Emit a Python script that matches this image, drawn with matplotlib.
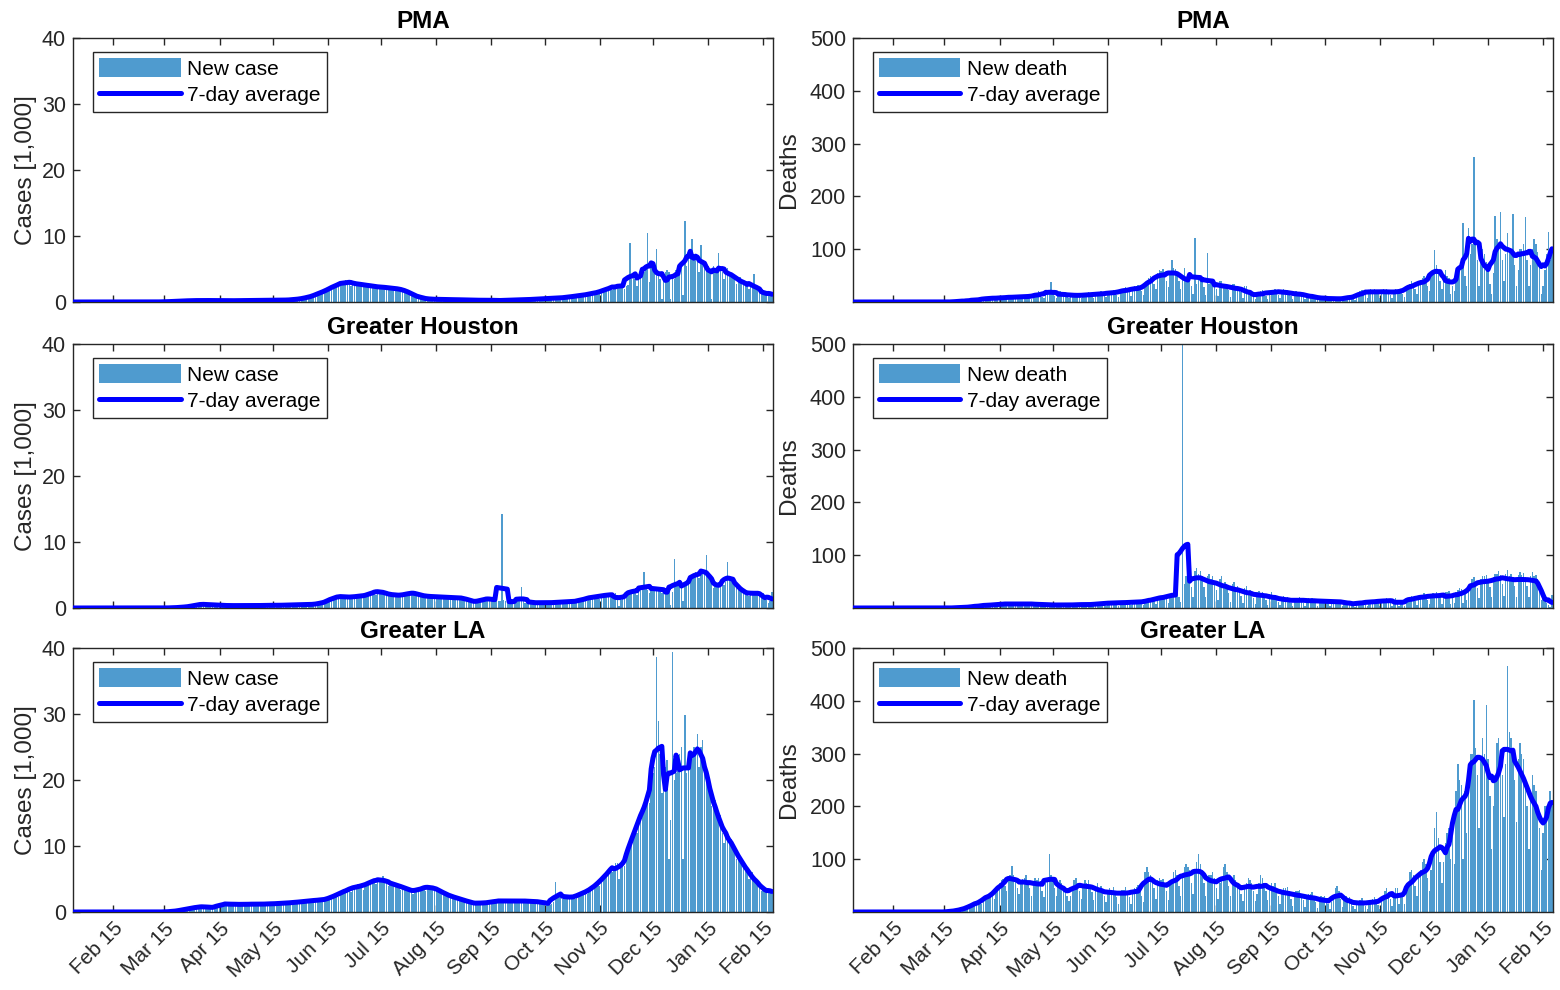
import numpy as np
import pandas as pd
import matplotlib
matplotlib.use('Agg')
import matplotlib.pyplot as plt
import matplotlib.dates as mdates

plt.rcParams['font.family'] = ['Liberation Sans', 'DejaVu Sans']

# daily values from 2020-01-22 (a Wednesday), one row = one week
start_date = '2020-01-22'

pma_cases = [  # thousands
    0, 0, 0, 0, 0, 0, 0,
    0, 0, 0, 0, 0, 0, 0,
    0, 0, 0, 0, 0, 0, 0,
    0, 0, 0, 0, 0, 0, 0,
    0, 0, 0, 0, 0, 0, 0,
    0, 0, 0, 0, 0, 0, 0,
    0, 0, 0, 0, 0, 0, 0.01,
    0.01, 0.02, 0.02, 0.03, 0.02, 0.04, 0.05,
    0.06, 0.08, 0.1, 0.1, 0.08, 0.12, 0.14,
    0.15, 0.17, 0.2, 0.18, 0.15, 0.2, 0.22,
    0.22, 0.25, 0.24, 0.2, 0.18, 0.22, 0.25,
    0.25, 0.24, 0.22, 0.2, 0.18, 0.2, 0.24,
    0.22, 0.2, 0.2, 0.18, 0.15, 0.18, 0.2,
    0.2, 0.2, 0.22, 0.2, 0.18, 0.2, 0.22,
    0.22, 0.25, 0.24, 0.2, 0.2, 0.22, 0.25,
    0.25, 0.26, 0.25, 0.22, 0.2, 0.24, 0.26,
    0.28, 0.3, 0.28, 0.25, 0.22, 0.26, 0.3,
    0.3, 0.32, 0.3, 0.28, 0.25, 0.3, 0.35,
    0.4, 0.45, 0.5, 0.45, 0.4, 0.5, 0.6,
    0.7, 0.8, 0.9, 0.9, 0.8, 1.0, 1.2,
    1.4, 1.6, 1.7, 1.6, 1.5, 1.8, 2.0,
    2.3, 2.5, 2.7, 2.6, 2.3, 2.6, 2.9,
    3.2, 3.4, 3.0, 2.8, 2.5, 2.9, 3.1,
    3.0, 2.8, 2.6, 2.4, 2.3, 2.6, 2.8,
    2.7, 2.5, 2.4, 2.2, 2.0, 2.3, 2.5,
    2.4, 2.3, 2.2, 2.1, 1.9, 2.1, 2.3,
    2.2, 2.1, 2.0, 1.8, 1.7, 1.9, 2.0,
    1.8, 1.6, 1.4, 1.1, 0.9, 1.0, 1.0,
    0.9, 0.7, 0.6, 0.5, 0.4, 0.5, 0.5,
    0.5, 0.45, 0.4, 0.35, 0.3, 0.4, 0.45,
    0.4, 0.4, 0.35, 0.3, 0.3, 0.35, 0.4,
    0.4, 0.35, 0.35, 0.3, 0.25, 0.3, 0.35,
    0.35, 0.3, 0.3, 0.25, 0.2, 0.25, 0.3,
    0.3, 0.3, 0.28, 0.25, 0.2, 0.25, 0.3,
    0.3, 0.25, 0.25, 0.2, 0.15, 0.2, 0.25,
    0.3, 0.3, 0.3, 0.25, 0.2, 0.3, 0.35,
    0.35, 0.4, 0.35, 0.3, 0.25, 0.35, 0.4,
    0.4, 0.45, 0.45, 0.4, 0.35, 0.4, 0.5,
    0.5, 0.55, 0.55, 0.5, 0.4, 0.5, 0.6,
    0.6, 0.65, 0.7, 0.6, 0.5, 0.6, 0.7,
    0.8, 0.85, 0.9, 0.8, 0.7, 0.9, 1.0,
    1.0, 1.1, 1.2, 1.1, 0.9, 1.1, 1.3,
    1.4, 1.5, 1.6, 1.4, 1.2, 1.5, 1.8,
    2.0, 2.2, 2.3, 2.0, 1.8, 2.2, 2.6,
    2.8, 2.2, 2.5, 2.6, 2.0, 2.5, 2.6,
    9.0, 3.5, 3.8, 3.5, 2.5, 3.6, 4.0,
    4.5, 4.6, 5.0, 10.5, 3.0, 5.5, 5.0,
    4.5, 8.0, 4.2, 3.5, 0.5, 4.5, 4.6,
    4.8, 4.5, 0.5, 4.0, 3.5, 4.8, 5.0,
    5.5, 6.0, 1.0, 12.3, 5.5, 6.5, 7.0,
    9.5, 6.5, 6.5, 6.0, 4.5, 8.6, 6.0,
    6.0, 5.5, 5.5, 5.0, 0.5, 5.5, 5.0,
    5.0, 7.5, 5.0, 4.5, 3.5, 4.8, 5.2,
    4.5, 4.2, 4.0, 3.5, 2.8, 3.5, 3.8,
    3.2, 3.0, 2.8, 2.5, 2.0, 2.5, 2.6,
    4.2, 2.0, 1.8, 1.5, 1.2, 1.5, 1.6,
    1.3, 1.2, 1.2, 1.0,
]

pma_deaths = [
    0, 0, 0, 0, 0, 0, 0,
    0, 0, 0, 0, 0, 0, 0,
    0, 0, 0, 0, 0, 0, 0,
    0, 0, 0, 0, 0, 0, 0,
    0, 0, 0, 0, 0, 0, 0,
    0, 0, 0, 0, 0, 0, 0,
    0, 0, 0, 0, 0, 0, 0,
    0, 0, 0, 0, 0, 0, 0,
    0, 0, 1, 0, 1, 1, 2,
    2, 1, 3, 2, 1, 4, 3,
    4, 6, 5, 3, 2, 6, 8,
    8, 9, 7, 5, 3, 8, 10,
    8, 10, 9, 6, 4, 9, 12,
    10, 12, 9, 7, 5, 10, 12,
    12, 14, 10, 8, 5, 12, 14,
    15, 20, 16, 10, 8, 18, 20,
    18, 38, 15, 12, 8, 16, 20,
    15, 18, 14, 10, 8, 14, 16,
    14, 16, 12, 9, 7, 14, 16,
    15, 18, 14, 10, 8, 16, 18,
    16, 20, 16, 12, 9, 18, 20,
    20, 22, 18, 14, 10, 22, 24,
    25, 28, 24, 18, 12, 26, 30,
    30, 32, 28, 20, 14, 34, 38,
    45, 50, 48, 35, 25, 55, 60,
    58, 62, 55, 40, 28, 55, 80,
    65, 62, 55, 40, 25, 48, 65,
    48, 45, 40, 30, 15, 122, 35,
    45, 42, 38, 28, 14, 92, 35,
    40, 38, 35, 25, 12, 40, 40,
    35, 33, 30, 22, 10, 35, 35,
    30, 28, 25, 18, 8, 30, 30,
    20, 18, 15, 10, 5, 12, 18,
    20, 22, 18, 12, 6, 20, 22,
    22, 25, 20, 14, 8, 22, 25,
    20, 22, 18, 12, 6, 18, 20,
    18, 18, 15, 10, 5, 15, 16,
    12, 12, 10, 6, 3, 10, 10,
    8, 9, 7, 5, 2, 7, 8,
    8, 8, 6, 4, 2, 7, 8,
    10, 12, 10, 8, 4, 10, 14,
    20, 22, 20, 15, 8, 22, 25,
    20, 24, 20, 15, 8, 22, 24,
    22, 25, 20, 14, 8, 20, 24,
    22, 25, 22, 16, 10, 28, 30,
    35, 40, 35, 25, 15, 38, 42,
    45, 50, 42, 30, 20, 55, 60,
    98, 70, 60, 40, 25, 50, 60,
    50, 45, 15, 30, 20, 45, 60,
    60, 70, 150, 50, 30, 140, 90,
    110, 274, 110, 80, 30, 90, 100,
    90, 75, 60, 35, 15, 55, 162,
    120, 110, 170, 80, 40, 90, 130,
    100, 90, 167, 70, 30, 60, 100,
    100, 110, 161, 80, 30, 70, 100,
    120, 110, 95, 70, 15, 30, 60,
    90, 133, 80, 100,
]

houston_cases = [  # thousands
    0, 0, 0, 0, 0, 0, 0,
    0, 0, 0, 0, 0, 0, 0,
    0, 0, 0, 0, 0, 0, 0,
    0, 0, 0, 0, 0, 0, 0,
    0, 0, 0, 0, 0, 0, 0,
    0, 0, 0, 0, 0, 0, 0,
    0, 0, 0, 0, 0, 0, 0,
    0, 0, 0, 0, 0, 0, 0.01,
    0.02, 0.03, 0.05, 0.05, 0.04, 0.08, 0.1,
    0.12, 0.15, 0.2, 0.2, 0.18, 0.25, 0.3,
    0.4, 0.5, 0.55, 0.6, 0.5, 0.55, 0.6,
    0.5, 0.55, 0.5, 0.45, 0.4, 0.45, 0.5,
    0.4, 0.45, 0.4, 0.35, 0.3, 0.35, 0.4,
    0.4, 0.4, 0.35, 0.35, 0.3, 0.35, 0.4,
    0.4, 0.4, 0.4, 0.35, 0.3, 0.4, 0.4,
    0.4, 0.4, 0.4, 0.35, 0.3, 0.4, 0.45,
    0.45, 0.45, 0.4, 0.4, 0.3, 0.4, 0.45,
    0.45, 0.5, 0.45, 0.4, 0.35, 0.45, 0.5,
    0.5, 0.5, 0.5, 0.45, 0.4, 0.5, 0.55,
    0.55, 0.6, 0.6, 0.5, 0.45, 0.55, 0.6,
    0.7, 0.8, 0.9, 0.9, 0.8, 1.0, 1.2,
    1.5, 1.7, 1.8, 1.6, 1.4, 1.7, 1.9,
    1.8, 1.9, 1.7, 1.5, 1.3, 1.6, 1.8,
    1.9, 2.0, 1.9, 1.7, 1.5, 1.8, 2.0,
    2.2, 2.4, 2.5, 2.3, 2.0, 2.6, 2.8,
    2.6, 2.5, 2.3, 2.0, 1.8, 2.1, 2.2,
    2.0, 2.1, 2.0, 1.8, 1.6, 2.0, 2.1,
    2.2, 2.3, 2.4, 2.2, 1.9, 2.3, 2.4,
    2.2, 2.0, 1.9, 1.7, 1.5, 1.8, 1.9,
    1.9, 1.8, 1.7, 1.6, 1.4, 1.7, 1.8,
    1.8, 1.7, 1.7, 1.5, 1.3, 1.6, 1.7,
    1.7, 1.6, 1.6, 1.4, 1.2, 1.5, 1.6,
    1.3, 1.2, 1.1, 0.9, 0.7, 0.9, 1.0,
    1.3, 1.4, 1.5, 1.3, 1.1, 1.4, 1.5,
    1.4, 1.3, 1.2, 1.1, 1.0, 14.3, 1.2,
    1.1, 1.0, 0.9, 0.8, 0.7, 1.0, 1.1,
    1.2, 1.3, 3.2, 1.0, 0.8, 1.0, 1.1,
    0.9, 0.9, 0.8, 0.7, 0.6, 0.8, 0.9,
    0.9, 0.9, 0.8, 0.7, 0.6, 0.8, 0.9,
    0.9, 1.0, 0.9, 0.8, 0.7, 0.9, 1.0,
    1.0, 1.0, 1.0, 0.9, 0.8, 1.0, 1.1,
    1.3, 1.4, 1.5, 1.3, 1.1, 1.5, 1.7,
    1.8, 1.9, 1.8, 1.6, 1.4, 1.8, 2.0,
    2.0, 2.2, 2.1, 1.9, 1.6, 2.0, 2.2,
    2.0, 0.3, 1.2, 1.8, 1.5, 2.3, 2.5,
    2.8, 2.6, 2.7, 2.4, 2.0, 2.7, 2.9,
    3.0, 5.5, 3.0, 2.8, 2.3, 3.0, 3.2,
    3.2, 3.1, 3.0, 2.6, 2.2, 2.8, 3.0,
    3.0, 2.8, 0.5, 2.5, 7.5, 3.5, 4.0,
    3.8, 3.5, 1.0, 4.0, 3.5, 4.5, 5.0,
    4.8, 5.0, 5.5, 5.0, 4.5, 5.2, 5.5,
    5.5, 8.0, 5.0, 4.5, 3.8, 3.0, 3.5,
    3.2, 3.5, 3.6, 3.8, 3.5, 4.0, 7.0,
    4.8, 4.5, 4.2, 3.5, 3.0, 3.5, 3.2,
    2.8, 2.5, 2.3, 2.0, 1.8, 2.2, 2.4,
    2.6, 2.4, 2.2, 2.0, 1.8, 2.2, 2.0,
    1.2, 0.8, 1.0, 2.5,
]

houston_deaths = [
    0, 0, 0, 0, 0, 0, 0,
    0, 0, 0, 0, 0, 0, 0,
    0, 0, 0, 0, 0, 0, 0,
    0, 0, 0, 0, 0, 0, 0,
    0, 0, 0, 0, 0, 0, 0,
    0, 0, 0, 0, 0, 0, 0,
    0, 0, 0, 0, 0, 0, 0,
    0, 0, 0, 0, 0, 0, 0,
    0, 0, 0, 1, 0, 1, 1,
    1, 1, 2, 1, 1, 2, 3,
    3, 4, 5, 4, 2, 4, 6,
    6, 7, 6, 5, 3, 6, 8,
    8, 9, 8, 6, 4, 8, 10,
    8, 9, 8, 6, 4, 8, 10,
    8, 10, 8, 6, 4, 8, 10,
    7, 8, 7, 5, 3, 7, 8,
    6, 7, 6, 5, 3, 6, 7,
    6, 7, 6, 4, 3, 6, 7,
    6, 8, 7, 5, 3, 7, 8,
    7, 8, 7, 5, 3, 8, 9,
    9, 10, 9, 7, 4, 10, 12,
    10, 12, 10, 8, 4, 11, 13,
    11, 13, 11, 8, 5, 12, 14,
    12, 14, 12, 9, 5, 14, 16,
    16, 18, 18, 14, 8, 20, 22,
    22, 25, 22, 18, 10, 26, 28,
    28, 30, 28, 20, 12, 560, 45,
    60, 65, 55, 40, 20, 70, 75,
    65, 70, 60, 40, 20, 60, 65,
    55, 60, 50, 35, 15, 55, 60,
    45, 50, 40, 28, 12, 45, 50,
    38, 42, 35, 22, 10, 38, 42,
    30, 35, 28, 18, 8, 30, 32,
    28, 30, 25, 16, 6, 26, 30,
    22, 25, 20, 12, 5, 20, 22,
    18, 20, 16, 10, 4, 16, 18,
    18, 20, 16, 10, 4, 16, 18,
    16, 18, 15, 10, 4, 15, 16,
    15, 17, 14, 9, 4, 14, 15,
    14, 16, 13, 8, 3, 13, 14,
    10, 11, 9, 6, 2, 8, 10,
    12, 14, 12, 8, 3, 12, 14,
    14, 16, 14, 9, 4, 15, 16,
    16, 18, 15, 10, 4, 16, 18,
    14, 4, 10, 10, 4, 16, 18,
    20, 22, 20, 14, 6, 22, 24,
    24, 28, 24, 16, 8, 26, 28,
    26, 30, 26, 18, 8, 28, 30,
    30, 32, 8, 20, 10, 30, 34,
    38, 36, 10, 30, 15, 40, 45,
    55, 58, 50, 38, 18, 55, 60,
    60, 62, 55, 40, 20, 58, 65,
    65, 70, 62, 45, 22, 65, 72,
    60, 65, 58, 42, 20, 62, 68,
    62, 66, 58, 42, 20, 60, 68,
    60, 62, 55, 38, 15, 30, 20,
    10, 5, 2, 25,
]

la_cases = [  # thousands
    0, 0, 0, 0, 0, 0, 0,
    0, 0, 0, 0, 0, 0, 0,
    0, 0, 0, 0, 0, 0, 0,
    0, 0, 0, 0, 0, 0, 0,
    0, 0, 0, 0, 0, 0, 0,
    0, 0, 0, 0, 0, 0, 0,
    0, 0, 0, 0, 0, 0, 0,
    0, 0.01, 0.01, 0.01, 0.02, 0.03, 0.04,
    0.05, 0.08, 0.1, 0.15, 0.15, 0.2, 0.25,
    0.3, 0.4, 0.45, 0.5, 0.45, 0.55, 0.6,
    0.7, 0.8, 0.8, 0.75, 0.7, 0.8, 0.85,
    0.8, 0.75, 0.7, 0.65, 0.6, 0.7, 0.7,
    1.3, 1.4, 1.2, 1.1, 1.0, 1.2, 1.3,
    1.2, 1.3, 1.2, 1.1, 1.0, 1.1, 1.2,
    1.2, 1.3, 1.2, 1.1, 1.0, 1.2, 1.3,
    1.2, 1.3, 1.2, 1.1, 1.0, 1.2, 1.3,
    1.3, 1.4, 1.3, 1.2, 1.0, 1.2, 1.4,
    1.4, 1.5, 1.4, 1.3, 1.1, 1.3, 1.5,
    1.6, 1.7, 1.6, 1.4, 1.2, 1.5, 1.7,
    1.8, 1.9, 1.8, 1.6, 1.4, 1.7, 1.9,
    1.9, 2.0, 2.0, 1.8, 1.6, 1.9, 2.1,
    2.4, 2.6, 2.7, 2.6, 2.3, 2.7, 3.0,
    3.3, 3.5, 3.6, 3.4, 3.0, 3.6, 3.9,
    4.0, 4.2, 4.0, 3.8, 3.4, 4.1, 4.4,
    4.6, 4.8, 4.9, 4.6, 4.2, 4.9, 5.2,
    4.9, 5.5, 4.7, 4.4, 4.0, 4.5, 4.6,
    4.3, 4.2, 4.1, 3.8, 3.4, 3.9, 4.0,
    3.6, 3.5, 3.4, 3.1, 2.8, 3.2, 3.3,
    3.5, 3.7, 3.8, 3.6, 3.2, 3.9, 4.0,
    3.9, 3.8, 3.6, 3.3, 3.0, 3.4, 3.4,
    2.9, 2.8, 2.6, 2.4, 2.1, 2.5, 2.5,
    2.2, 2.1, 2.0, 1.8, 1.6, 1.9, 1.9,
    1.6, 1.5, 1.4, 1.3, 1.1, 1.3, 1.4,
    1.4, 1.5, 1.5, 1.3, 1.2, 1.4, 1.5,
    1.7, 1.8, 1.7, 1.6, 1.4, 1.7, 1.8,
    1.7, 1.8, 1.7, 1.6, 1.4, 1.7, 1.8,
    1.7, 1.8, 1.7, 1.6, 1.4, 1.7, 1.8,
    1.6, 1.7, 1.6, 1.5, 1.3, 1.6, 1.7,
    1.5, 1.4, 1.3, 1.3, 1.0, 1.2, 1.5,
    4.5, 2.8, 2.6, 2.4, 2.0, 2.3, 2.5,
    2.2, 2.3, 2.4, 2.2, 1.9, 2.4, 2.6,
    2.8, 3.0, 3.2, 3.0, 2.7, 3.2, 3.5,
    3.8, 4.1, 4.5, 4.4, 4.0, 4.8, 5.2,
    5.6, 6.0, 6.5, 6.4, 6.0, 7.0, 7.5,
    7.5, 5.0, 6.8, 7.5, 7.0, 8.5, 9.5,
    10.5, 11.5, 12.5, 12.8, 12.0, 13.5, 14.5,
    15.5, 16.5, 17.5, 17.0, 16.5, 19.0, 21.0,
    22.0, 38.7, 29.0, 24.0, 18.0, 21.0, 22.0,
    23.0, 8.0, 14.0, 39.4, 20.0, 21.0, 23.0,
    24.0, 25.0, 8.0, 29.8, 21.0, 22.0, 23.0,
    24.0, 25.0, 24.0, 27.0, 22.0, 25.0, 26.0,
    22.0, 21.0, 20.0, 18.0, 16.0, 17.0, 17.0,
    15.0, 14.0, 14.7, 12.0, 10.5, 12.0, 12.0,
    11.5, 11.0, 10.0, 9.0, 8.0, 8.5, 8.5,
    8.0, 7.5, 7.0, 6.0, 5.0, 5.5, 6.0,
    5.2, 4.8, 4.5, 3.8, 3.2, 3.5, 3.6,
    3.4, 3.2, 3.0, 2.8,
]

la_deaths = [
    0, 0, 0, 0, 0, 0, 0,
    0, 0, 0, 0, 0, 0, 0,
    0, 0, 0, 0, 0, 0, 0,
    0, 0, 0, 0, 0, 0, 0,
    0, 0, 0, 0, 0, 0, 0,
    0, 0, 0, 0, 0, 0, 0,
    0, 0, 0, 0, 0, 0, 0,
    0, 0, 0, 0, 0, 1, 0,
    1, 2, 2, 3, 2, 3, 4,
    5, 7, 8, 10, 8, 12, 14,
    15, 18, 20, 22, 15, 22, 28,
    30, 35, 38, 32, 25, 40, 45,
    55, 60, 62, 50, 40, 65, 70,
    88, 70, 60, 45, 35, 60, 62,
    65, 70, 60, 45, 30, 55, 65,
    60, 65, 58, 40, 28, 55, 62,
    110, 70, 62, 45, 30, 55, 60,
    55, 50, 45, 30, 20, 30, 50,
    60, 65, 55, 40, 25, 50, 60,
    55, 60, 52, 38, 22, 48, 55,
    45, 50, 42, 30, 18, 38, 45,
    42, 48, 40, 28, 15, 35, 42,
    42, 48, 40, 28, 15, 38, 45,
    48, 52, 45, 30, 18, 75, 85,
    75, 70, 65, 45, 25, 60, 65,
    60, 62, 55, 40, 22, 55, 60,
    75, 80, 70, 50, 30, 70, 85,
    90, 85, 80, 55, 35, 75, 95,
    110, 90, 80, 55, 30, 60, 70,
    70, 75, 65, 45, 25, 55, 65,
    85, 90, 75, 50, 30, 65, 70,
    60, 55, 50, 35, 20, 45, 55,
    65, 60, 55, 40, 20, 35, 55,
    70, 65, 55, 40, 22, 45, 55,
    50, 55, 45, 30, 15, 35, 45,
    45, 48, 40, 25, 12, 30, 40,
    40, 42, 35, 22, 10, 25, 35,
    35, 38, 30, 18, 8, 22, 30,
    28, 30, 25, 15, 6, 18, 24,
    45, 50, 40, 25, 10, 25, 30,
    25, 28, 22, 12, 5, 15, 20,
    22, 26, 20, 12, 5, 15, 20,
    25, 28, 24, 14, 6, 18, 25,
    40, 45, 38, 25, 12, 35, 45,
    45, 15, 35, 30, 15, 40, 50,
    75, 80, 70, 50, 30, 65, 80,
    95, 100, 90, 65, 40, 80, 110,
    160, 190, 140, 95, 55, 95, 130,
    150, 160, 100, 170, 90, 230, 280,
    250, 240, 100, 230, 150, 260, 300,
    300, 401, 310, 260, 160, 290, 330,
    300, 392, 290, 220, 120, 200, 260,
    320, 330, 300, 260, 180, 280, 466,
    340, 330, 300, 250, 170, 290, 320,
    300, 290, 250, 200, 120, 230, 260,
    240, 230, 200, 160, 80, 150, 200,
    190, 200, 230, 210,
]

titles = ['PMA', 'Greater Houston', 'Greater LA']
case_series = [pma_cases, houston_cases, la_cases]
death_series = [pma_deaths, houston_deaths, la_deaths]

BAR_COLOR = '#4f9bcf'
LINE_COLOR = '#0000ff'
AX_COLOR = '#262626'

fig = plt.figure(figsize=(15.6, 9.9), dpi=100)

col_x = [73 / 1560, 853 / 1560]
ax_w = 700 / 1560
row_top = [38, 344, 648]
ax_h = 264 / 990

tick_dates = [pd.Timestamp(2020, 2, 15) + pd.DateOffset(months=i) for i in range(13)]


def panel(ax, values, title, legend_label, ylabel, yticks, ylim, show_x, label_x):
    dates = pd.date_range(start_date, periods=len(values), freq='D')
    s = pd.Series(values, index=dates, dtype=float)
    avg = s.rolling(7, center=True, min_periods=1).mean()
    bars = ax.bar(dates, s.values, width=0.8, color=BAR_COLOR, linewidth=0, zorder=2)
    line, = ax.plot(dates, avg.values, color=LINE_COLOR, lw=3.6, zorder=3,
                    solid_capstyle='round', solid_joinstyle='round')
    ax.set_xlim(pd.Timestamp('2020-01-23 12:00'), pd.Timestamp('2021-02-20 14:00'))
    ax.set_ylim(*ylim)
    ax.set_yticks(yticks)
    ax.set_xticks(tick_dates)
    ax.xaxis.set_major_formatter(mdates.DateFormatter('%b %d'))
    ax.tick_params(direction='in', top=True, right=True, length=5, width=1,
                   colors=AX_COLOR, labelsize=15.5, pad=5)
    if show_x:
        plt.setp(ax.get_xticklabels(), rotation=45, ha='right',
                 rotation_mode='anchor', fontsize=15)
    else:
        ax.tick_params(labelbottom=False)
    for sp in ax.spines.values():
        sp.set_color(AX_COLOR)
        sp.set_linewidth(1)
    ax.set_title(title, fontsize=17.5, fontweight='bold', pad=7)
    ax.set_ylabel(ylabel, fontsize=17.5, color=AX_COLOR)
    ax.yaxis.set_label_coords(label_x, 0.5)
    leg = ax.legend([bars, line], [legend_label, '7-day average'],
                    loc='upper left', bbox_to_anchor=(20 / 700, 1 - 14 / 264),
                    borderaxespad=0, fontsize=15, frameon=True, fancybox=False,
                    edgecolor=AX_COLOR, framealpha=1, handlelength=3.9,
                    handleheight=1.0, handletextpad=0.3, labelspacing=0.3,
                    borderpad=0.3)
    leg.get_frame().set_linewidth(1)


for r in range(3):
    bottom = 1 - (row_top[r] + 264) / 990
    axl = fig.add_axes([col_x[0], bottom, ax_w, ax_h])
    panel(axl, case_series[r], titles[r], 'New case', 'Cases [1,000]',
          [0, 10, 20, 30, 40], (0, 40), r == 2, -0.051)
    axr = fig.add_axes([col_x[1], bottom, ax_w, ax_h])
    panel(axr, death_series[r], titles[r], 'New death', 'Deaths',
          [100, 200, 300, 400, 500], (0, 500), r == 2, -0.076)

fig.savefig('out.png', dpi=100)
